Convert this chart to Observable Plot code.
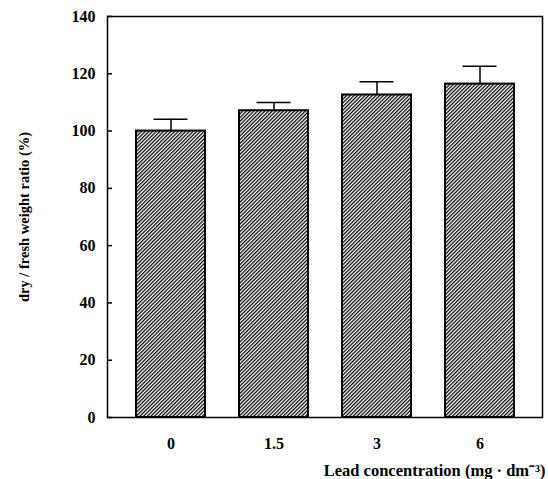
<!DOCTYPE html>
<html><head><meta charset="utf-8">
<script src="https://cdn.jsdelivr.net/npm/d3@7"></script>
<script src="https://cdn.jsdelivr.net/npm/@observablehq/plot@0.6"></script>
<style>
html,body{margin:0;padding:0;background:#fff;}
</style>
</head><body><div id="chart"></div>
<script>
const categories = ["0", "1.5", "3", "6"];
const values = [100, 107.1, 112.6, 116.4];
const errors = [4.1, 2.9, 4.6, 6.2];
const yTicks = [0, 20, 40, 60, 80, 100, 120, 140];
const xLabel = "Lead concentration (mg \u00B7 dm\u207B\u00B3)";
const yLabel = "dry / fresh weight ratio (%)";

const data = categories.map((c, i) => ({c, v: values[i], top: values[i] + errors[i]}));

function hatchDefs() {
  const ns = "http://www.w3.org/2000/svg";
  const defs = document.createElementNS(ns, "defs");
  const p = document.createElementNS(ns, "pattern");
  p.setAttribute("id", "hatch");
  p.setAttribute("patternUnits", "userSpaceOnUse");
  p.setAttribute("width", "2.6");
  p.setAttribute("height", "2.6");
  p.setAttribute("patternTransform", "rotate(45)");
  const bg = document.createElementNS(ns, "rect");
  bg.setAttribute("width", "2.6");
  bg.setAttribute("height", "2.6");
  bg.setAttribute("fill", "#fff");
  p.appendChild(bg);
  const l = document.createElementNS(ns, "line");
  l.setAttribute("x1", "0.6"); l.setAttribute("y1", "0");
  l.setAttribute("x2", "0.6"); l.setAttribute("y2", "2.6");
  l.setAttribute("stroke", "#000");
  l.setAttribute("stroke-width", "1.3");
  p.appendChild(l);
  defs.appendChild(p);
  return defs;
}

const chart = Plot.plot({
  width: 548,
  height: 479,
  marginLeft: 107,
  marginRight: 6,
  marginTop: 16,
  marginBottom: 62,
  style: {fontFamily: "'Liberation Serif', 'Times New Roman', serif", fontWeight: "bold", fontSize: "16px", background: "#fff", color: "#000"},
  x: {domain: categories, paddingInner: 0.332, paddingOuter: 0.263},
  y: {domain: [0, 140]},
  marks: [
    hatchDefs,
    Plot.barY(data, {x: "c", y: "v", fill: "url(#hatch)", stroke: "#000", strokeWidth: 2}),
    Plot.ruleX(data, {x: "c", y1: "v", y2: "top", stroke: "#000", strokeWidth: 1.5}),
    Plot.tickY(data, {x: "c", y: "top", insetLeft: 17.5, insetRight: 17.5, stroke: "#000", strokeWidth: 1.5}),
    Plot.tickY(yTicks, {y: d => d, insetRight: 430, stroke: "#000", strokeWidth: 1.5}),
    Plot.frame({stroke: "#000", strokeWidth: 1.5}),
    Plot.axisY({ticks: yTicks, tickSize: 0, tickPadding: 12, fontSize: 16, label: null}),
    Plot.axisY({ticks: [], tickSize: 0, fontSize: 14.5, label: yLabel, labelAnchor: "center", labelArrow: "none", labelOffset: 89}),
    Plot.axisX({tickSize: 0, tickPadding: 20, fontSize: 16, label: null}),
    Plot.axisX({ticks: [], tickSize: 0, fontSize: 16.5, label: xLabel, labelAnchor: "right", labelArrow: "none", labelOffset: 58})
  ]
});
document.getElementById("chart").appendChild(chart);
</script>
</body></html>
